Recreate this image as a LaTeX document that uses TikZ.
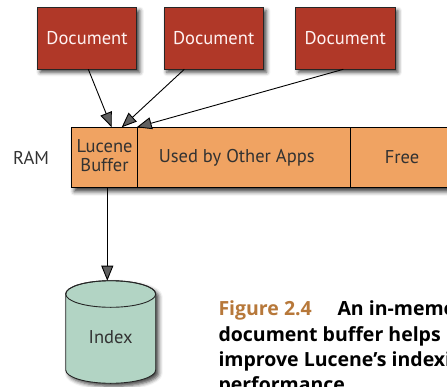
\documentclass[tikz,border=0pt]{standalone}
\usepackage{fontspec}
\setmainfont{PT Sans}
\newfontfamily\capfont{Open Sans}
\usetikzlibrary{arrows.meta,shadows.blur}
\definecolor{docred}{RGB}{176,56,40}
\definecolor{ramorange}{RGB}{240,163,98}
\definecolor{idxgreen}{RGB}{178,212,196}
\definecolor{capbrown}{RGB}{183,120,58}
\definecolor{txtgray}{RGB}{50,50,50}
\tikzset{
  docbox/.style={draw=black!85, line width=0.8pt, fill=docred, text=white!95!red,
    minimum width=99.5pt, minimum height=61.5pt, inner sep=0pt, font=\fontsize{18.5}{21}\selectfont,
    blur shadow={shadow xshift=3pt, shadow yshift=-3pt, shadow blur radius=4pt, shadow opacity=75}},
  ramcell/.style={draw=black, line width=0.9pt, fill=ramorange, text=txtgray,
    minimum height=60.4pt, inner sep=0pt, font=\fontsize{18.5}{21}\selectfont},
  plaintxt/.style={text=txtgray, font=\fontsize{18.5}{21}\selectfont},
  conn/.style={line width=0.9pt, -{Triangle[length=15pt,width=12pt]}},
  captxt/.style={anchor=base west, inner sep=0pt, font=\capfont\bfseries\fontsize{19.5}{24}\selectfont}
}
\begin{document}
\begin{tikzpicture}[x=1pt,y=-1pt]
\useasboundingbox (0,0) rectangle (447,386);
\clip (0,0) rectangle (447,386);
% documents
\node[docbox] (doc1) at (87,38.5) {Document};
\node[docbox] (doc2) at (213.7,38.5) {Document};
\node[docbox] (doc3) at (345.2,38.5) {Document};
% RAM bar
\fill[ramorange, blur shadow={shadow xshift=3pt, shadow yshift=-4pt, shadow blur radius=4pt, shadow opacity=75}] (71.3,127.3) rectangle (470,187.7);
\node[ramcell, minimum width=66.4pt] (luc) at (104.5,157.5) {\begin{tabular}{@{}c@{}}Lucene\\[-2pt]Buffer\end{tabular}};
\node[ramcell, minimum width=212.3pt] (used) at (243.85,157.5) {};
\node[plaintxt] at (236.7,157.5) {Used by Other Apps};
\node[ramcell, minimum width=120pt] (free) at (410,157.5) {};
\node[plaintxt] at (402,157.5) {Free};
\node[plaintxt] (ram) at (31,157.5) {RAM};
% arrows into buffer
\coordinate (s1) at (88.3,69.3);
\coordinate (s2) at (184.3,69.3);
\coordinate (s3) at (343.3,69.3);
\coordinate (t1) at (111.7,127.3);
\coordinate (t2) at (121.7,127.3);
\coordinate (t3) at (136.7,127.3);
\draw[conn] (s1) -- (t1);
\draw[conn] (s2) -- (t2);
\draw[conn] (s3) -- (t3);
% index cylinder
\path[fill=idxgreen, draw=black!85, line width=0.9pt,
  blur shadow={shadow xshift=3pt, shadow yshift=-3pt, shadow blur radius=4pt, shadow opacity=75}]
  (65.7,294) -- (65.7,370) arc[start angle=180, end angle=360, x radius=45, y radius=-13.3]
  -- (155.7,294) arc[start angle=0, end angle=180, x radius=45, y radius=-13.3] -- cycle;
\draw[black!85, line width=0.9pt] (110.7,294) ellipse[x radius=45, y radius=13.3];
\node[plaintxt] (idx) at (110.7,337) {Index};
\coordinate (lucb) at (107.3,187.7);
\coordinate (idxtop) at (107.3,280.7);
\draw[conn] (lucb) -- (idxtop);
% caption
\node[captxt, text=capbrown] (fig) at (218.3,315) {Figure 2.4};
\node[captxt] (c1) at (337.3,315) {An in-memory};
\node[captxt] (c2) at (218.3,341.5) {document buffer helps};
\node[captxt] (c3) at (218.3,366) {improve Lucene’s indexing};
\node[captxt] (c4) at (218.3,391.5) {performance};
\end{tikzpicture}
\end{document}
